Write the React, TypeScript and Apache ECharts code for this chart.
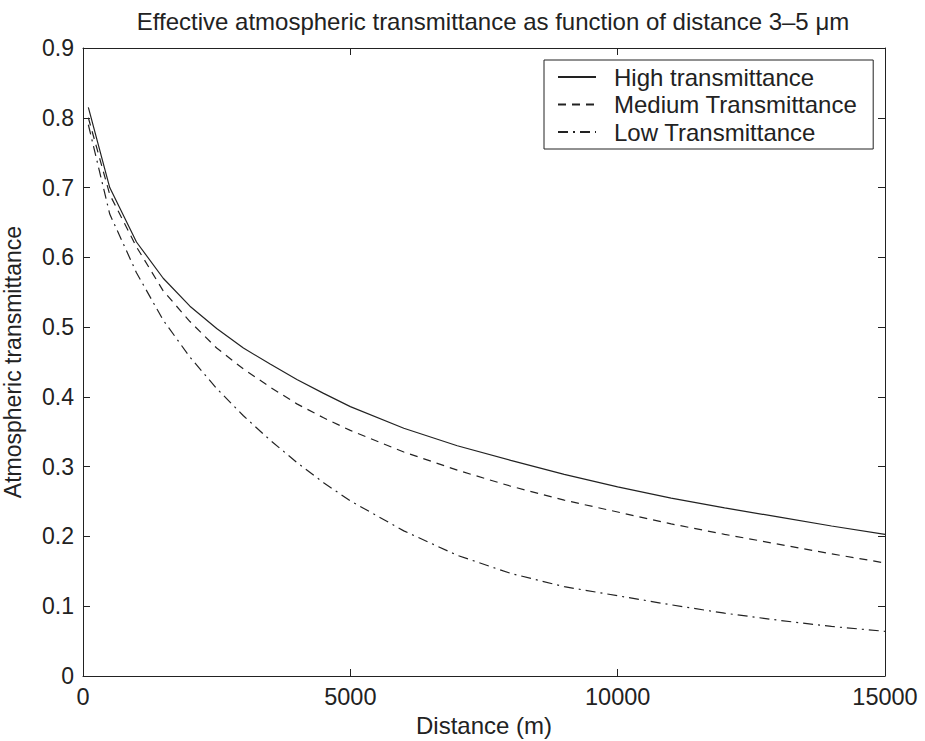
import React, { useEffect, useRef } from "react";
import * as echarts from "echarts";

const distances = [100, 500, 1000, 1500, 2000, 2500, 3000, 3500, 4000, 4500, 5000, 6000, 7000, 8000, 9000, 10000, 11000, 12000, 13000, 14000, 15000];
const highT = [0.815, 0.7, 0.622, 0.57, 0.53, 0.498, 0.47, 0.447, 0.425, 0.405, 0.386, 0.355, 0.33, 0.309, 0.289, 0.271, 0.255, 0.241, 0.228, 0.215, 0.203];
const mediumT = [0.8, 0.69, 0.615, 0.552, 0.508, 0.47, 0.44, 0.414, 0.39, 0.37, 0.352, 0.321, 0.295, 0.272, 0.252, 0.235, 0.218, 0.203, 0.189, 0.175, 0.162];
const lowT = [0.79, 0.662, 0.578, 0.51, 0.457, 0.412, 0.373, 0.338, 0.306, 0.277, 0.251, 0.208, 0.173, 0.147, 0.128, 0.115, 0.102, 0.09, 0.08, 0.071, 0.064];
const seriesNames = ["High transmittance", "Medium Transmittance", "Low Transmittance"];

const FONT = "'Liberation Sans', Arial, Helvetica, sans-serif";
const INK = "#222";

export default function App() {
  const ref = useRef<HTMLDivElement>(null);
  useEffect(() => {
    document.body.style.margin = "0";
    const chart = echarts.init(ref.current!, null, { renderer: "svg" });
    const mk = (vals: number[]) => distances.map((d, i) => [d, vals[i]]);
    const lineTypes: any[] = ["solid", [8, 6], [10, 5, 2, 5]];
    const data = [highT, mediumT, lowT];
    const tick = { show: true, inside: true, length: 7, lineStyle: { color: INK, width: 1 } };
    chart.setOption({
      animation: false,
      backgroundColor: "#fff",
      textStyle: { fontFamily: FONT, color: INK },
      title: {
        text: "Effective atmospheric transmittance as function of distance 3\u20135 \u03bcm",
        left: 488,
        textAlign: "center",
        top: 4,
        textStyle: { fontFamily: FONT, fontSize: 24, fontWeight: "normal", color: INK },
      },
      legend: {
        orient: "vertical",
        left: 544,
        top: 60,
        data: seriesNames,
        backgroundColor: "#fff",
        borderColor: INK,
        borderWidth: 1,
        borderRadius: 0,
        padding: [5, 16, 5, 13],
        itemWidth: 38,
        itemHeight: 20,
        itemGap: 3.5,
        itemStyle: { opacity: 0 },
        textStyle: { fontFamily: FONT, fontSize: 24, lineHeight: 24, color: INK, padding: [0, 0, 0, 13] },
      },
      grid: { left: 83, right: 40, top: 48, bottom: 65, containLabel: false, outerBoundsMode: "none" },
      xAxis: [
        {
          type: "value",
          min: 0,
          max: 15000,
          interval: 5000,
          name: "Distance (m)",
          nameLocation: "middle",
          nameGap: 37,
          nameTextStyle: { fontFamily: FONT, fontSize: 24, color: INK },
          axisLine: { show: true, onZero: false, lineStyle: { color: INK, width: 1 } },
          axisTick: tick,
          axisLabel: { fontFamily: FONT, fontSize: 23.5, color: INK, margin: 9, formatter: (v: number) => String(v) },
          splitLine: { show: false },
        },
        {
          type: "value",
          position: "top",
          min: 0,
          max: 15000,
          interval: 5000,
          axisLine: { show: true, onZero: false, lineStyle: { color: INK, width: 1 } },
          axisTick: tick,
          axisLabel: { show: false },
          splitLine: { show: false },
        },
      ],
      yAxis: [
        {
          type: "value",
          min: 0,
          max: 0.9,
          interval: 0.1,
          name: "Atmospheric transmittance",
          nameLocation: "middle",
          nameGap: 59,
          nameTextStyle: { fontFamily: FONT, fontSize: 23, color: INK },
          axisLine: { show: true, onZero: false, lineStyle: { color: INK, width: 1 } },
          axisTick: tick,
          axisLabel: { fontFamily: FONT, fontSize: 23, color: INK, margin: 9, formatter: (v: number) => (v === 0 ? "0" : v.toFixed(1)) },
          splitLine: { show: false },
        },
        {
          type: "value",
          position: "right",
          min: 0,
          max: 0.9,
          interval: 0.1,
          axisLine: { show: true, onZero: false, lineStyle: { color: INK, width: 1 } },
          axisTick: tick,
          axisLabel: { show: false },
          splitLine: { show: false },
        },
      ],
      series: seriesNames.map((name, i) => ({
        name,
        type: "line",
        smooth: false,
        showSymbol: false,
        symbol: "none",
        data: mk(data[i]),
        lineStyle: { color: INK, width: 1.2, type: lineTypes[i] },
        itemStyle: { color: INK },
      })),
    });
    return () => chart.dispose();
  }, []);
  return <div ref={ref} style={{ width: 925, height: 741 }} />;
}
